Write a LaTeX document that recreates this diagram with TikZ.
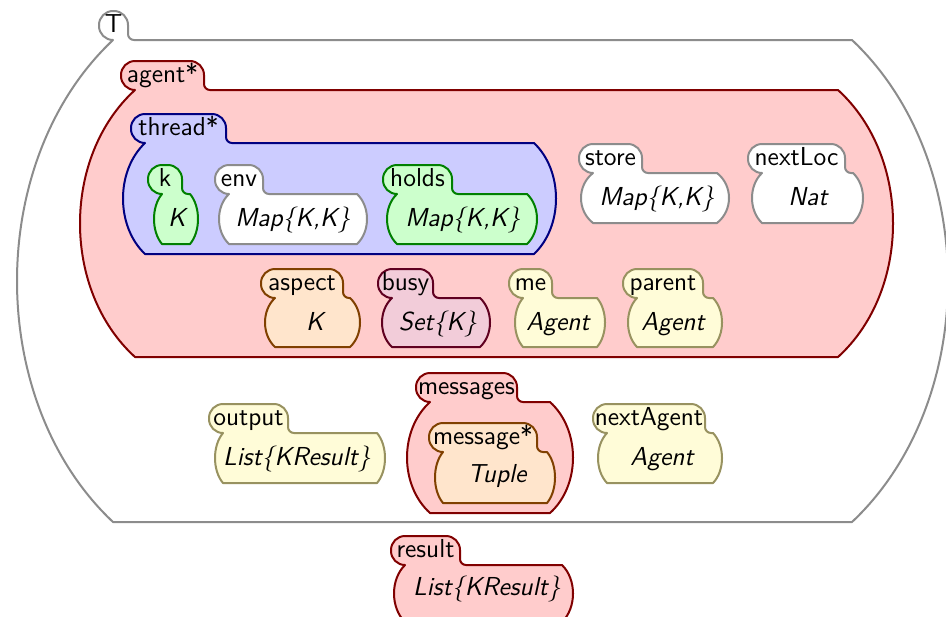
\documentclass[tikz,border=0pt]{standalone}
\definecolor{paleyellow}{RGB}{255,252,216}
\definecolor{olivegray}{RGB}{152,146,96}
\tikzset{
	every node/.style = {font=\fontsize{13}{15}\selectfont\sffamily, inner sep=0pt}
}
\tikzset{
	graycell/.style   = {fill=white, draw=black!45},
	redcell/.style    = {fill=red!20, draw=red!50!black},
	bluecell/.style   = {fill=blue!20, draw=blue!50!black},
	greencell/.style  = {fill=green!20, draw=green!50!black},
	orangecell/.style = {fill=orange!20, draw=orange!50!black},
	purplecell/.style = {fill=purple!20, draw=purple!50!black},
	yellowcell/.style = {fill=paleyellow, draw=olivegray},
	ctext/.style      = {anchor=base, font=\fontsize{13}{15}\selectfont\sffamily\itshape}
}

\begin{document}
\begin{tikzpicture}[x=0.5pt, y=-0.5pt, line width=1pt, line join=round]
        \useasboundingbox (0,0) rectangle (946,616);

        % One K cell: name, style, tab right, body left, body right,
        % body top, body bottom, bulge of the sides, label
        \def\kcell#1#2#3#4#5#6#7#8#9{%
            \pgfmathsetmacro\kTabL{#4-14}
            \pgfmathsetmacro\kTabT{#6-29}
            \pgfmathsetmacro\kQ{(#7-#6)/4}
            \pgfmathsetmacro\kC{4*#8/3}
            \filldraw[#2] (#4,#6) arc[start angle=90, end angle=180, radius=14]
                -- (\kTabL,{\kTabT+14}) arc[start angle=180, end angle=270, radius=14]
                -- ({#3-14},\kTabT) arc[start angle=270, end angle=360, radius=14]
                -- (#3,{#6-6}) arc[start angle=180, end angle=90, radius=6]
                -- (#5,#6) .. controls ({#5+\kC},{#6+\kQ}) and ({#5+\kC},{#7-\kQ}) .. (#5,#7)
                -- (#4,#7) .. controls ({#4-\kC},{#7-\kQ}) and ({#4-\kC},{#6+\kQ}) .. (#4,#6)
                -- cycle;
            \pgfmathsetmacro\kMid{(\kTabL+#3)/2}
            \node[anchor=base] (#1) at (\kMid,{#6-8}) {#9};
        }

        % outer cells
        \kcell{top}{graycell}{128}{113}{852}{40}{522}{96}{T}
        \kcell{agent}{redcell}{204}{135}{838}{90}{357}{55}{agent*}
        \kcell{thread}{bluecell}{226}{145}{534}{143}{254}{22}{thread*}

        % inside thread
        \kcell{k}{greencell}{182}{162}{190}{194}{244}{8}{k}
        \kcell{env}{graycell}{263}{229}{357}{194}{244}{10}{env}
        \kcell{holds}{greencell}{452}{397}{527}{194}{244}{10}{holds}
        \node[ctext] (kval) at (177,226) {K};
        \node[ctext] (envval) at (293,226) {Map\{K,K\}};
        \node[ctext] (holdsval) at (463,226) {Map\{K,K\}};

        % rest of agent
        \kcell{store}{graycell}{642}{593}{717}{173}{223}{12}{store}
        \kcell{nextloc}{graycell}{845}{762}{853}{173}{223}{10}{nextLoc}
        \node[ctext] (storeval) at (657,205) {Map\{K,K\}};
        \node[ctext] (nextlocval) at (808,205) {Nat};

        \kcell{aspect}{orangecell}{343}{275}{350}{298}{347}{10}{aspect}
        \kcell{busy}{purplecell}{433}{392}{480}{298}{347}{10}{busy}
        \kcell{me}{yellowcell}{552}{523}{597}{298}{347}{8}{me}
        \kcell{parent}{yellowcell}{703}{637}{713}{298}{347}{9}{parent}
        \node[ctext] (aspectval) at (315,330) {K};
        \node[ctext] (busyval) at (438,330) {Set\{K\}};
        \node[ctext] (meval) at (558,330) {Agent};
        \node[ctext] (parentval) at (673,330) {Agent};

        % bottom row of T
        \kcell{output}{yellowcell}{288}{223}{377}{433}{483}{8}{output}
        \kcell{messages}{redcell}{517}{430}{550}{402}{513}{23}{messages}
        \kcell{message}{orangecell}{537}{443}{547}{452}{503}{8}{message*}
        \kcell{nextagent}{yellowcell}{705}{607}{713}{433}{483}{9}{nextAgent}
        \node[ctext] (outputval) at (297,465) {List\{KResult\}};
        \node[ctext] (messageval) at (497,482) {Tuple};
        \node[ctext] (nextagentval) at (662,465) {Agent};

        % outside T
        \kcell{result}{redcell}{460}{405}{562}{565}{622}{11}{result}
        \node[ctext] (resultval) at (487,595) {List\{KResult\}};
\end{tikzpicture}
\end{document}
